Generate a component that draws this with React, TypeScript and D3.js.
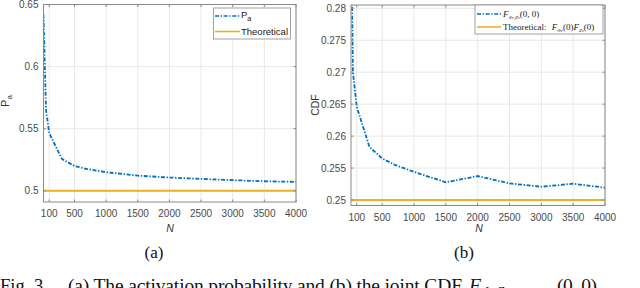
import React from "react";
import * as d3 from "d3";

const nA = [10, 50, 100, 300, 500, 700, 1000, 1500, 2000, 2500, 3000, 3500, 4000];
const pA = [0.642, 0.565, 0.5465, 0.5257, 0.520, 0.5175, 0.515, 0.5122, 0.5107, 0.5096, 0.5086, 0.5077, 0.5072];
const theoA = 0.5;

const nB = [10, 40, 100, 300, 500, 700, 1000, 1500, 2000, 2500, 3000, 3500, 4000];
const cdfB = [0.295, 0.27, 0.2646, 0.2583, 0.2565, 0.2555, 0.2544, 0.25277, 0.25375, 0.2526, 0.25208, 0.25255, 0.25192];
const theoB = 0.25;

const xTicks = [100, 500, 1000, 1500, 2000, 2500, 3000, 3500, 4000];
const yTicksA = [0.5, 0.55, 0.6, 0.65];
const yTicksB = [0.25, 0.255, 0.26, 0.265, 0.27, 0.275, 0.28];

const BLUE = "#0072BD";
const ORANGE = "#EDB120";
const SANS = "'Liberation Sans', Arial, Helvetica, sans-serif";
const SERIF = "'Liberation Serif', 'Times New Roman', serif";

type PanelProps = {
  id: string;
  left: number; right: number; top: number; bottom: number;
  yDomain: [number, number];
  xs: number[]; ys: number[]; theo: number;
  yTicks: number[];
  fmt: (v: number) => string;
};

function Panel(p: PanelProps) {
  const x = d3.scaleLinear().domain([10, 4000]).range([p.left, p.right]);
  const y = d3.scaleLinear().domain(p.yDomain).range([p.bottom, p.top]);
  const line = d3.line<number>().x((_, i) => x(p.xs[i])).y((d) => y(d));
  const axisCol = "#8a8a8a";
  const tickCol = "#4a4a4a";
  return (
    <g>
      <defs>
        <clipPath id={"clip" + p.id}>
          <rect x={p.left} y={p.top} width={p.right - p.left} height={p.bottom - p.top} />
        </clipPath>
      </defs>
      <rect x={p.left} y={p.top} width={p.right - p.left} height={p.bottom - p.top} fill="#fff" />
      {xTicks.map((t) => (
        <line key={"gx" + t} x1={x(t)} x2={x(t)} y1={p.top} y2={p.bottom} stroke="#e8e8e8" strokeWidth={1} />
      ))}
      {p.yTicks.map((t) => (
        <line key={"gy" + t} x1={p.left} x2={p.right} y1={y(t)} y2={y(t)} stroke="#e8e8e8" strokeWidth={1} />
      ))}
      <g clipPath={`url(#clip${p.id})`}>
        <line x1={p.left} x2={p.right} y1={y(p.theo)} y2={y(p.theo)} stroke={ORANGE} strokeWidth={2} />
        <path d={line(p.ys) || ""} fill="none" stroke={BLUE} strokeWidth={1.8} strokeDasharray="4,1.6,1.4,1.6" />
      </g>
      <rect x={p.left} y={p.top} width={p.right - p.left} height={p.bottom - p.top} fill="none" stroke={axisCol} strokeWidth={1} />
      {xTicks.map((t) => (
        <g key={"tx" + t}>
          <line x1={x(t)} x2={x(t)} y1={p.bottom} y2={p.bottom - 2.5} stroke={axisCol} />
          <line x1={x(t)} x2={x(t)} y1={p.top} y2={p.top + 2.5} stroke={axisCol} />
          <text x={x(t)} y={p.bottom + 15} textAnchor="middle" fontFamily={SANS} fontSize={10} fill={tickCol}>{t}</text>
        </g>
      ))}
      {p.yTicks.map((t) => (
        <g key={"ty" + t}>
          <line x1={p.left} x2={p.left + 2.5} y1={y(t)} y2={y(t)} stroke={axisCol} />
          <line x1={p.right} x2={p.right - 2.5} y1={y(t)} y2={y(t)} stroke={axisCol} />
          <text x={p.left - 5} y={y(t) + 3.6} textAnchor="end" fontFamily={SANS} fontSize={10} fill={tickCol}>{p.fmt(t)}</text>
        </g>
      ))}
    </g>
  );
}

export default function App() {
  const fmt = (v: number) => d3.format("")(+v.toFixed(3));
  return (
    <svg width={640} height={288} style={{ position: "absolute", left: 0, top: 0, background: "#fff" }}>
      <rect width={640} height={288} fill="#fff" />
      <Panel id="a" left={43.5} right={296} top={4.5} bottom={202} yDomain={[0.491, 0.65]}
        xs={nA} ys={pA} theo={theoA} yTicks={yTicksA} fmt={fmt} />
      <Panel id="b" left={351} right={605} top={5} bottom={205.5} yDomain={[0.24914, 0.28052]}
        xs={nB} ys={cdfB} theo={theoB} yTicks={yTicksB} fmt={fmt} />

      {/* axis labels */}
      <text transform="translate(9,101) rotate(-90)" textAnchor="middle" fontFamily={SANS} fontSize={11} fill="#333">
        P<tspan fontSize={8} dy={3}>a</tspan>
      </text>
      <text transform="translate(319,105) rotate(-90)" textAnchor="middle" fontFamily={SANS} fontSize={10.5} fill="#333">CDF</text>
      <text x={170} y={232} textAnchor="middle" fontFamily={SANS} fontStyle="italic" fontSize={10.5} fill="#333">N</text>
      <text x={479} y={232} textAnchor="middle" fontFamily={SANS} fontStyle="italic" fontSize={10.5} fill="#333">N</text>

      {/* legend a */}
      <rect x={213.5} y={8} width={77} height={31} fill="#fff" stroke="#8a8a8a" strokeWidth={0.8} />
      <line x1={215} x2={240} y1={16} y2={16} stroke={BLUE} strokeWidth={1.6} strokeDasharray="4,1.6,1.4,1.6" />
      <text x={241} y={18} fontFamily={SANS} fontSize={9.5} fill="#222">P<tspan fontSize={7.5} dy={3}>a</tspan></text>
      <line x1={215} x2={240} y1={31.5} y2={31.5} stroke={ORANGE} strokeWidth={1.6} />
      <text x={241} y={35} fontFamily={SANS} fontSize={9.5} fill="#222">Theoretical</text>

      {/* legend b */}
      <rect x={475} y={5} width={128} height={29} fill="#fff" stroke="#8a8a8a" strokeWidth={0.8} />
      <line x1={477} x2={501} y1={14} y2={14} stroke={BLUE} strokeWidth={1.6} strokeDasharray="4,1.6,1.4,1.6" />
      <text x={503} y={17} fontFamily={SERIF} fontSize={9} fill="#222">
        <tspan fontStyle="italic">F</tspan>
        <tspan fontSize={5} dy={2} fontStyle="italic">Φr,Zs</tspan>
        <tspan dy={-2}>(0, 0)</tspan>
      </text>
      <line x1={477} x2={501} y1={27} y2={27} stroke={ORANGE} strokeWidth={1.6} />
      <text x={503} y={30} fontFamily={SERIF} fontSize={9} fill="#222">
        Theoretical:  <tspan fontStyle="italic" dx={3}>F</tspan>
        <tspan fontSize={5} dy={2} fontStyle="italic">Φr</tspan>
        <tspan dy={-2}>(0)</tspan>
        <tspan fontStyle="italic">F</tspan>
        <tspan fontSize={5} dy={2} fontStyle="italic">Zs</tspan>
        <tspan dy={-2}>(0)</tspan>
      </text>

      {/* subfigure captions */}
      <text x={154} y={258} textAnchor="middle" fontFamily={SERIF} fontSize={17} fill="#111">(a)</text>
      <text x={464} y={258} textAnchor="middle" fontFamily={SERIF} fontSize={17} fill="#111">(b)</text>

      {/* figure caption (cut off at the bottom edge, as in the reference) */}
      <g fontFamily={SERIF} fontSize={19.5} fill="#111">
        <text x={0} y={292} textLength={48} lengthAdjust="spacingAndGlyphs">Fig. 3.</text>
        <text x={68} y={292} textLength={394} lengthAdjust="spacing">(a) The activation probability and (b) the joint CDF</text>
        <text x={469} y={292} fontStyle="italic">F</text>
        <text x={482} y={295} fontSize={12} fontStyle="italic">Φr,Zs</text>
        <text x={557} y={292} textLength={40} lengthAdjust="spacing">(0, 0)</text>
      </g>
    </svg>
  );
}
